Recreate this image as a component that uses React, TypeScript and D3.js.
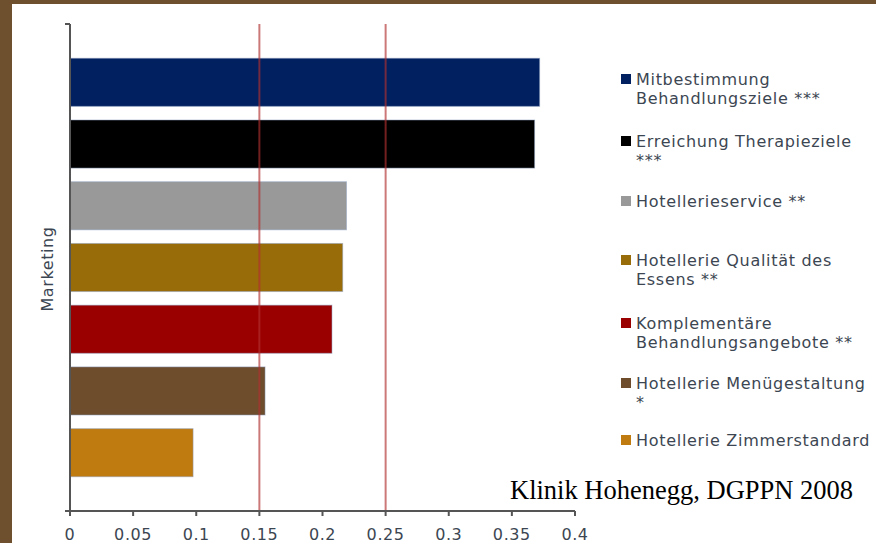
import React from "react";
import * as d3 from "d3";

const series = [
  "Mitbestimmung Behandlungsziele ***",
  "Erreichung Therapieziele ***",
  "Hotellerieservice **",
  "Hotellerie Qualität des Essens **",
  "Komplementäre Behandlungsangebote **",
  "Hotellerie Menügestaltung *",
  "Hotellerie Zimmerstandard",
];
const legendLines = [
  ["Mitbestimmung", "Behandlungsziele ***"],
  ["Erreichung Therapieziele", "***"],
  ["Hotellerieservice **"],
  ["Hotellerie Qualität des", "Essens **"],
  ["Komplementäre", "Behandlungsangebote **"],
  ["Hotellerie Menügestaltung", "*"],
  ["Hotellerie Zimmerstandard"],
];
const values = [0.372, 0.368, 0.219, 0.216, 0.2075, 0.1545, 0.0975];
const colors = ["#002060", "#000000", "#999999", "#996c0a", "#9a0000", "#6d4d2c", "#c07b10"];
const xTicks = [0, 0.05, 0.1, 0.15, 0.2, 0.25, 0.3, 0.35, 0.4];
const refLines = [0.15, 0.25];
const legendY = [79, 141, 201, 260, 323, 383, 440];
const categoryLabel = "Marketing";
const sourceNote = "Klinik Hohenegg, DGPPN 2008";

export default function App() {
  const W = 876, H = 543;
  const left = 70, right = 575, top = 24, bottom = 511;
  const x = d3.scaleLinear().domain([0, 0.4]).range([left, right]);
  const y = d3.scaleBand<string>().domain(series).range([top, bottom]).paddingInner(0.221).paddingOuter(0.555);
  const font = "'DejaVu Sans', Verdana, sans-serif";
  return (
    <svg width={W} height={H} style={{ position: "absolute", left: 0, top: 0 }}>
      <rect x={0} y={0} width={W} height={H} fill="#6e4f2e" />
      <rect x={12} y={4} width={W - 12} height={H - 4} fill="#ffffff" />
      {series.map((s, i) => (
        <rect key={s} x={x(0)} y={y(s)!} width={x(values[i]) - x(0)} height={y.bandwidth()}
          fill={colors[i]} stroke="#8da0c0" strokeOpacity={0.5} strokeWidth={1} />
      ))}
      {refLines.map((v) => (
        <line key={v} x1={x(v)} x2={x(v)} y1={top} y2={bottom} stroke="#b03030" strokeOpacity={0.65} strokeWidth={2} />
      ))}
      {/* y axis */}
      <line x1={left} x2={left} y1={top} y2={bottom} stroke="#555" strokeWidth={2} />
      <line x1={left - 5} x2={left} y1={top} y2={top} stroke="#555" strokeWidth={2} />
      {/* x axis */}
      <line x1={left - 5} x2={right} y1={bottom} y2={bottom} stroke="#555" strokeWidth={2} />
      {xTicks.map((t) => (
        <g key={t}>
          <line x1={x(t)} x2={x(t)} y1={bottom} y2={bottom + 5} stroke="#555" strokeWidth={2} />
          <text x={x(t)} y={540} textAnchor="middle" fontFamily={font} fontSize={16} letterSpacing={0.6} fill="#3c4652">
            {String(t)}
          </text>
        </g>
      ))}
      <text transform={`translate(53,${269}) rotate(-90)`} textAnchor="middle"
        fontFamily={font} fontSize={16} letterSpacing={0.6} fill="#3c4652">{categoryLabel}</text>
      {legendLines.map((lines, i) => (
        <g key={i}>
          <rect x={621} y={legendY[i] - 5} width={10} height={10} fill={colors[i]} />
          {lines.map((ln, j) => (
            <text key={j} x={636} y={legendY[i] + 6 + j * 18.5} fontFamily={font} fontSize={16} letterSpacing={0.7} fill="#3c4652">{ln}</text>
          ))}
        </g>
      ))}
      <text x={510} y={499} fontFamily="'Liberation Serif', 'Times New Roman', serif" fontSize={26.5} fill="#000">{sourceNote}</text>
    </svg>
  );
}
